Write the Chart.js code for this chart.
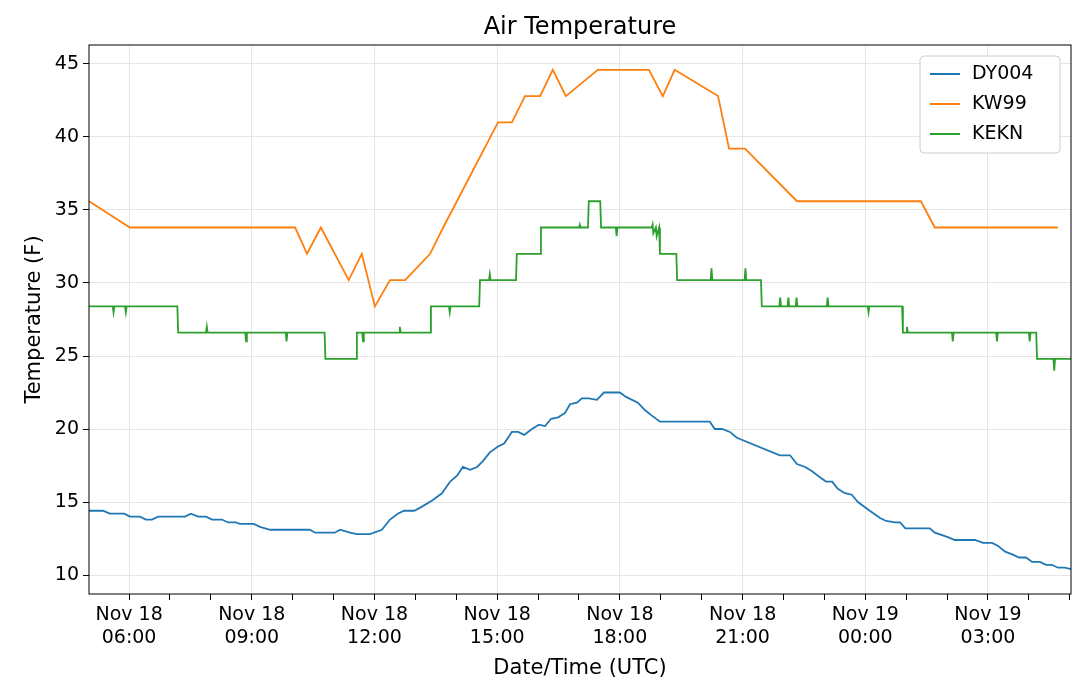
<!DOCTYPE html>
<html><head><meta charset="utf-8">
<script src="https://cdn.jsdelivr.net/npm/chart.js@4"></script>
<style>html,body{margin:0;background:#fff}#w{width:1080px;height:689px}</style>
</head><body><div id="w"><canvas id="c"></canvas></div>
<script>
// hours since Nov 18 00:00 UTC
const dyTimes=[5.02,5.36,5.53,5.88,6.02,6.27,6.41,6.56,6.71,7.37,7.51,7.69,7.88,8.03,8.27,8.42,8.61,8.71,9.05,9.20,9.45,10.42,10.55,11.03,11.16,11.40,11.57,11.89,12.18,12.38,12.57,12.72,12.97,13.11,13.41,13.65,13.85,14.02,14.16,14.34,14.51,14.65,14.82,15.02,15.17,15.36,15.51,15.66,15.85,16.02,16.17,16.32,16.49,16.66,16.78,16.95,17.07,17.24,17.44,17.61,18.00,18.15,18.44,18.61,18.79,18.98,20.20,20.32,20.50,20.69,20.86,21.91,22.16,22.33,22.53,22.70,22.89,23.04,23.19,23.33,23.50,23.67,23.82,24.11,24.36,24.51,24.73,24.85,24.98,25.58,25.70,26.02,26.19,26.68,26.88,27.10,27.24,27.42,27.61,27.76,27.93,28.08,28.27,28.42,28.56,28.71,28.88,29.03];
const dyValues=[14.4,14.4,14.2,14.2,14.0,14.0,13.8,13.8,14.0,14.0,14.2,14.0,14.0,13.8,13.8,13.6,13.6,13.5,13.5,13.3,13.1,13.1,12.9,12.9,13.1,12.9,12.8,12.8,13.1,13.8,14.2,14.4,14.4,14.6,15.1,15.6,16.4,16.8,17.4,17.2,17.4,17.8,18.4,18.8,19.0,19.8,19.8,19.6,20.0,20.3,20.2,20.7,20.8,21.1,21.7,21.8,22.1,22.1,22.0,22.5,22.5,22.2,21.8,21.3,20.9,20.5,20.5,20.0,20.0,19.8,19.4,18.2,18.2,17.6,17.4,17.1,16.7,16.4,16.4,15.9,15.6,15.5,15.0,14.4,13.9,13.7,13.6,13.6,13.2,13.2,12.9,12.6,12.4,12.4,12.2,12.2,12.0,11.6,11.4,11.2,11.2,10.9,10.9,10.7,10.7,10.5,10.5,10.4];
const kwTimes=[5.02,6.02,10.06,10.35,10.69,11.37,11.69,12.01,12.38,12.75,13.36,13.68,15.02,15.36,15.68,16.05,16.36,16.68,17.46,18.71,19.05,19.34,20.40,20.67,21.06,22.33,25.36,25.70,28.71];
const kwValues=[35.6,33.8,33.8,32.0,33.8,30.2,32.0,28.4,30.2,30.2,32.0,33.8,41.0,41.0,42.8,42.8,44.6,42.8,44.6,44.6,42.8,44.6,42.8,39.2,39.2,35.6,35.6,33.8,33.8];
const kekTimes=[5.02,5.60,5.62,5.64,5.90,5.92,5.94,7.18,7.20,7.88,7.90,7.92,8.84,8.86,8.88,9.83,9.85,9.87,10.78,10.80,10.85,11.55,11.57,11.70,11.72,11.74,12.60,12.62,12.64,13.36,13.38,13.82,13.84,13.86,14.56,14.58,14.80,14.82,14.84,15.46,15.48,16.05,16.07,17.00,17.02,17.04,17.22,17.24,17.52,17.54,17.90,17.92,17.94,18.78,18.80,18.82,18.88,18.90,18.96,18.98,19.38,19.40,20.22,20.24,20.26,21.05,21.07,21.09,21.45,21.47,21.90,21.92,21.94,22.10,22.12,22.14,22.30,22.32,22.34,23.06,23.08,23.10,24.06,24.08,24.10,24.90,24.92,25.00,25.02,25.04,26.12,26.14,26.16,27.20,27.22,27.24,28.00,28.02,28.04,28.18,28.20,28.60,28.62,28.64,29.03];
const kekValues=[28.4,28.4,28.0,28.4,28.4,28.0,28.4,28.4,26.6,26.6,27.0,26.6,26.6,26.0,26.6,26.6,26.0,26.6,26.6,24.8,24.8,24.8,26.6,26.6,26.0,26.6,26.6,27.0,26.6,26.6,28.4,28.4,28.0,28.4,28.4,30.2,30.2,30.6,30.2,30.2,32.0,32.0,33.8,33.8,34.0,33.8,33.8,35.6,35.6,33.8,33.8,33.2,33.8,33.8,34.0,33.4,33.8,33.2,33.8,32.0,32.0,30.2,30.2,31.0,30.2,30.2,31.0,30.2,30.2,28.4,28.4,29.0,28.4,28.4,29.0,28.4,28.4,29.0,28.4,28.4,29.0,28.4,28.4,28.0,28.4,28.4,26.6,26.6,27.0,26.6,26.6,26.0,26.6,26.6,26.0,26.6,26.6,26.0,26.6,26.6,24.8,24.8,24.0,24.8,24.8];
const seriesNames=['DY004','KW99','KEKN'];
const colors=['#1f77b4','#ff7f0e','#2ca02c'];
const xMajor=[6,9,12,15,18,21,24,27];
const xLabels=[['Nov 18','06:00'],['Nov 18','09:00'],['Nov 18','12:00'],['Nov 18','15:00'],['Nov 18','18:00'],['Nov 18','21:00'],['Nov 19','00:00'],['Nov 19','03:00']];
const yTicks=[10,15,20,25,30,35,40,45];

const pts=(t,v)=>t.map((x,i)=>({x,y:v[i]}));
const F='"DejaVu Sans", sans-serif';
const deco={id:'deco',afterDraw(c){const x=c.ctx,a=c.chartArea;x.save();
x.strokeStyle='#000';x.lineWidth=1;x.strokeRect(a.left,a.top,a.right-a.left,a.bottom-a.top);
x.fillStyle='#000';x.font='24px '+F;x.textAlign='center';x.textBaseline='middle';x.fillText('Air Temperature',(a.left+a.right)/2,28);
const lx=920,ly=56,lw=140,lh=97;x.fillStyle='rgba(255,255,255,0.85)';x.strokeStyle='#ccc';
x.beginPath();x.roundRect(lx,ly,lw,lh,4);x.fill();x.stroke();
x.font='19px '+F;x.textAlign='left';
seriesNames.forEach((n,i)=>{const yy=ly+18+i*30;x.strokeStyle=colors[i];x.lineWidth=2;x.beginPath();x.moveTo(lx+10,yy);x.lineTo(lx+40,yy);x.stroke();x.fillStyle='#000';x.fillText(n,lx+52,yy);});
x.restore();}};
new Chart(document.getElementById('c'),{type:'line',
data:{datasets:[
{label:seriesNames[0],data:pts(dyTimes,dyValues),borderColor:colors[0]},
{label:seriesNames[1],data:pts(kwTimes,kwValues),borderColor:colors[1]},
{label:seriesNames[2],data:pts(kekTimes,kekValues),borderColor:colors[2]}].map(d=>Object.assign(d,{borderWidth:1.8,pointRadius:0,tension:0,fill:false}))},
options:{responsive:true,maintainAspectRatio:false,animation:false,
layout:{padding:{left:22,right:9,top:45,bottom:8}},
plugins:{legend:{display:false},title:{display:false},tooltip:{enabled:false}},
scales:{
x:{type:'linear',min:5.02,max:29.03,
afterBuildTicks(s){const t=[];for(let h=6;h<=29;h++)t.push({value:h});s.ticks=t;},
afterFit(s){s.height=87;},
ticks:{autoSkip:false,maxRotation:0,color:'#000',font:{family:F,size:19},padding:4,
callback(v){const i=xMajor.indexOf(v);return i<0?'':xLabels[i];}},
grid:{color(c){return xMajor.includes(c.tick&&c.tick.value)?'#e6e6e6':'rgba(0,0,0,0)';},
tickColor(c){return '#000';},tickLength:6,drawTicks:true},border:{display:false},
title:{display:true,text:'Date/Time (UTC)',color:'#000',font:{family:F,size:21},padding:{top:0,bottom:0}}},
y:{min:8.7,max:46.3,afterBuildTicks(s){s.ticks=yTicks.map(v=>({value:v}));},
afterFit(s){s.width=67;},
ticks:{color:'#000',font:{family:F,size:19},padding:4},
grid:{color:'#e6e6e6',tickColor:'#000',tickLength:6},border:{display:false},
title:{display:true,text:'Temperature (F)',color:'#000',font:{family:F,size:21},padding:{top:0,bottom:0}}}}},
plugins:[deco]});
</script></body></html>
